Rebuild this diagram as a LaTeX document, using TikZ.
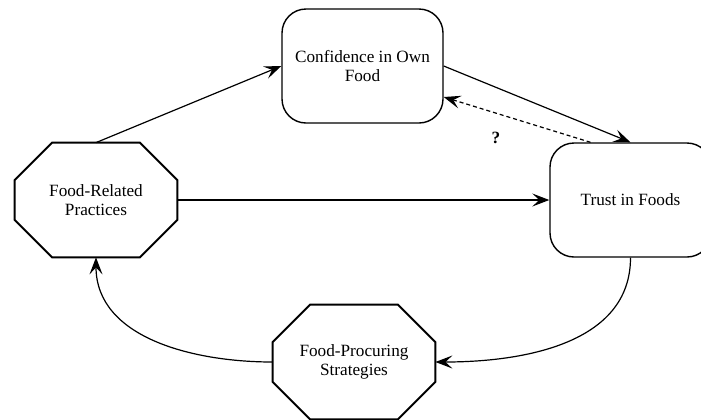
\documentclass[tikz,border=0pt]{standalone}
\usepackage{fontspec}
\setmainfont{Liberation Serif}
\usetikzlibrary{arrows.meta}

\tikzset{
	box/.style={draw,line width=0.7pt,rounded corners=12pt,minimum width=80.5pt,minimum height=57pt,align=center},
	octa/.style={minimum width=81pt,minimum height=57pt,inner sep=0pt,align=center},
	link/.style={->,line width=0.6pt}
}

% octagon round a node
\newcommand{\octaline}[1]{
	\draw[line width=1pt] ([xshift=18.75pt]#1.north west)--([xshift=-18.75pt]#1.north east)
		--([yshift=-18.75pt]#1.north east)--([yshift=18.75pt]#1.south east)
		--([xshift=-18.75pt]#1.south east)--([xshift=18.75pt]#1.south west)
		--([yshift=18.75pt]#1.south west)--([yshift=-18.75pt]#1.north west)--cycle;
}

\begin{document}
\begin{tikzpicture}[>={Stealth[length=8.5pt,width=6.5pt,inset=3.5pt]},x=0.5pt,y=-0.5pt,font=\fontsize{8.6}{9.5}\selectfont]

\useasboundingbox (0,0) rectangle (701,419);

\node[box] (conf) at (362.5,66) {Confidence in Own\\Food};
\node[box] (trust) at (630.5,200) {Trust in Foods};
\node[octa] (practices) at (96,200) {Food-Related\\Practices};
\node[octa] (procuring) at (354,362) {Food-Procuring\\Strategies};
\octaline{practices}
\octaline{procuring}

\draw[link] (practices.north)--(conf.west);
\draw[link] (conf.east)--(trust.north);
\draw[link] (practices.east)--(trust.west);
\draw[link,dash pattern=on 2pt off 1.5pt] ([xshift=-20pt]trust.north)--([yshift=-15.5pt]conf.east);
\node[font=\fontsize{8.6}{9.5}\selectfont\bfseries] (q) at (496,138) {?};

\draw[link] (trust.south) to[out=-90,in=0] (procuring.east);
\draw[link] (procuring.west) to[out=180,in=-90] (practices.south);

\end{tikzpicture}
\end{document}
